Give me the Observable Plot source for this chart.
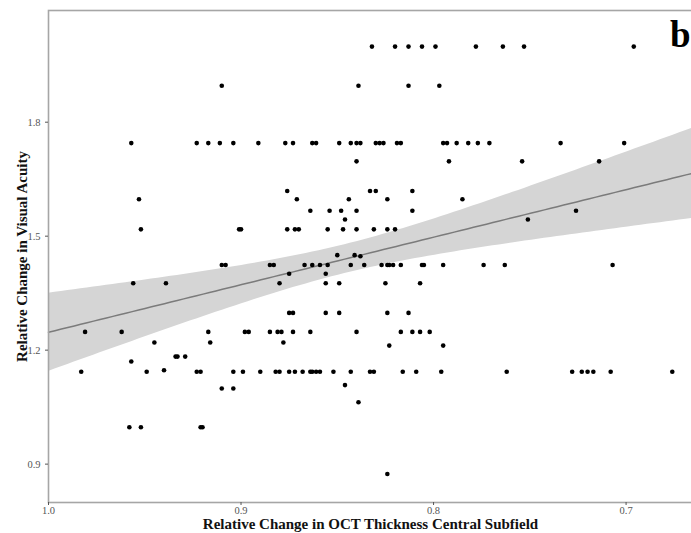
<!DOCTYPE html>
<html><head><meta charset="utf-8">
<script src="https://cdn.jsdelivr.net/npm/d3@7"></script>
<script src="https://cdn.jsdelivr.net/npm/@observablehq/plot@0.6"></script>
<style>
html,body{margin:0;padding:0;background:#fff;}
</style></head><body><div id="chart"></div>
<script>
// Relative change in OCT thickness (x) and relative change in visual acuity (y), one line per VA level
const octChange = [
  0.832, 0.820, 0.813, 0.806, 0.799, 0.778, 0.764, 0.753, 0.696,
  0.910, 0.839, 0.813, 0.797,
  0.957, 0.923, 0.917, 0.911, 0.904, 0.891, 0.877, 0.873, 0.863, 0.861, 0.849, 0.843, 0.840, 0.838, 0.830, 0.828, 0.826, 0.819, 0.817, 0.795, 0.793, 0.788, 0.782, 0.777, 0.771, 0.734, 0.701,
  0.840, 0.792, 0.754, 0.714,
  0.876, 0.833, 0.830, 0.811,
  0.953, 0.871, 0.844, 0.824, 0.785,
  0.864, 0.854, 0.848, 0.840, 0.811, 0.726,
  0.846, 0.751,
  0.952, 0.901, 0.900, 0.876, 0.872, 0.870, 0.855, 0.847, 0.840, 0.831, 0.824, 0.820,
  0.850, 0.841, 0.838,
  0.910, 0.908, 0.885, 0.883, 0.867, 0.863, 0.859, 0.855, 0.843, 0.836, 0.827, 0.824, 0.823, 0.821, 0.817, 0.806, 0.805, 0.795, 0.774, 0.763, 0.707,
  0.875, 0.856,
  0.956, 0.939, 0.880, 0.856, 0.849, 0.825, 0.807,
  0.875, 0.873, 0.856, 0.849, 0.824, 0.813,
  0.981, 0.962, 0.917, 0.898, 0.896, 0.885, 0.881, 0.879, 0.873, 0.864, 0.840, 0.817, 0.811, 0.807, 0.802,
  0.945, 0.916, 0.878,
  0.823, 0.795,
  0.934, 0.933, 0.929,
  0.957,
  0.940,
  0.983, 0.949, 0.923, 0.921, 0.904, 0.899, 0.890, 0.882, 0.880, 0.875, 0.872, 0.868, 0.864, 0.863, 0.861, 0.859, 0.852, 0.843, 0.833, 0.831, 0.816, 0.809, 0.796, 0.762, 0.728, 0.723, 0.720, 0.717, 0.708, 0.676,
  0.846,
  0.910, 0.904,
  0.839,
  0.958, 0.952, 0.921, 0.920,
  0.824
];
const vaChange = [
  1.999, 1.999, 1.999, 1.999, 1.999, 1.999, 1.999, 1.999, 1.999,
  1.896, 1.896, 1.896, 1.896,
  1.745, 1.745, 1.745, 1.745, 1.745, 1.745, 1.745, 1.745, 1.745, 1.745, 1.745, 1.745, 1.745, 1.745, 1.745, 1.745, 1.745, 1.745, 1.745, 1.745, 1.745, 1.745, 1.745, 1.745, 1.745, 1.745, 1.745,
  1.697, 1.697, 1.697, 1.697,
  1.619, 1.619, 1.619, 1.619,
  1.597, 1.597, 1.597, 1.597, 1.597,
  1.567, 1.567, 1.567, 1.567, 1.567, 1.567,
  1.544, 1.544,
  1.518, 1.518, 1.518, 1.518, 1.518, 1.518, 1.518, 1.518, 1.518, 1.518, 1.518, 1.518,
  1.450, 1.450, 1.447,
  1.424, 1.424, 1.424, 1.424, 1.424, 1.424, 1.424, 1.424, 1.424, 1.424, 1.424, 1.424, 1.424, 1.424, 1.424, 1.424, 1.424, 1.424, 1.424, 1.424, 1.424,
  1.401, 1.401,
  1.376, 1.376, 1.376, 1.376, 1.376, 1.376, 1.376,
  1.298, 1.298, 1.298, 1.298, 1.298, 1.298,
  1.248, 1.248, 1.248, 1.248, 1.248, 1.248, 1.248, 1.248, 1.248, 1.248, 1.248, 1.248, 1.248, 1.248, 1.248,
  1.220, 1.220, 1.220,
  1.212, 1.212,
  1.183, 1.183, 1.183,
  1.170,
  1.147,
  1.143, 1.143, 1.143, 1.143, 1.143, 1.143, 1.143, 1.143, 1.143, 1.143, 1.143, 1.143, 1.143, 1.143, 1.143, 1.143, 1.143, 1.143, 1.143, 1.143, 1.143, 1.143, 1.143, 1.143, 1.143, 1.143, 1.143, 1.143, 1.143, 1.143,
  1.108,
  1.099, 1.099,
  1.063,
  0.997, 0.997, 0.997, 0.997,
  0.874
];
const xTicks = [1.0, 0.9, 0.8, 0.7];
const yTicks = [0.9, 1.2, 1.5, 1.8];
const xTitle = "Relative Change in OCT Thickness Central Subfield";
const yTitle = "Relative Change in Visual Acuity";
const panelTag = "b";

const xDomain = [1.0, 0.6655];
const yDomain = [0.799, 2.094];

const data = octChange.map((x, i) => ({x, y: vaChange[i]}));

// Linear fit with 95% confidence band, computed from the data
const n = data.length;
const mx = d3.mean(data, d => d.x), my = d3.mean(data, d => d.y);
const sxx = d3.sum(data, d => (d.x - mx) ** 2);
const sxy = d3.sum(data, d => (d.x - mx) * (d.y - my));
const slope = sxy / sxx, icept = my - slope * mx;
const sres = Math.sqrt(d3.sum(data, d => (d.y - icept - slope * d.x) ** 2) / (n - 2));
const tq = 1.974;
const fitCurve = d3.range(0, 101).map(i => {
  const x = xDomain[0] + (xDomain[1] - xDomain[0]) * i / 100;
  const f = icept + slope * x;
  const se = sres * Math.sqrt(1 / n + (x - mx) ** 2 / sxx);
  return {x, fit: f, lo: f - tq * se, hi: f + tq * se};
});

const serif = "'Liberation Serif', 'Times New Roman', serif";

const chart = Plot.plot({
  width: 691,
  height: 533,
  marginLeft: 48,
  marginTop: 10,
  marginBottom: 31,
  marginRight: -1,
  x: {domain: xDomain},
  y: {domain: yDomain},
  style: {fontFamily: serif, background: "#fff", overflow: "visible"},
  marks: [
    Plot.areaY(fitCurve, {x: "x", y1: "lo", y2: "hi", fill: "#d5d5d5"}),
    Plot.lineY(fitCurve, {x: "x", y: "fit", stroke: "#7b7b7b", strokeWidth: 1.5}),
    Plot.dot(data, {x: "x", y: "y", r: 2.3, fill: "#000", stroke: "none"}),
    Plot.frame({stroke: "#a6a6a6", strokeWidth: 1.6}),
    Plot.axisX({ticks: xTicks, tickFormat: d3.format(".1f"), label: null, tickSize: 3, tickPadding: 1, fontSize: 10.5, color: "#555"}),
    Plot.axisY({ticks: yTicks, tickFormat: d3.format(".1f"), label: null, tickSize: 3, tickPadding: 5, fontSize: 10.5, color: "#555"}),
    Plot.text([xTitle], {frameAnchor: "bottom", textAnchor: "middle", dy: 26, fontWeight: "bold", fontSize: 15, fill: "#111"}),
    Plot.text([yTitle], {frameAnchor: "left", textAnchor: "middle", rotate: -90, dx: -26, fontWeight: "bold", fontSize: 15, fill: "#111"}),
    Plot.text([panelTag], {frameAnchor: "top-right", textAnchor: "end", dx: -2, dy: 10, fontWeight: "bold", fontSize: 37, fill: "#000"})
  ]
});
document.getElementById("chart").appendChild(chart);
</script>
</body></html>
